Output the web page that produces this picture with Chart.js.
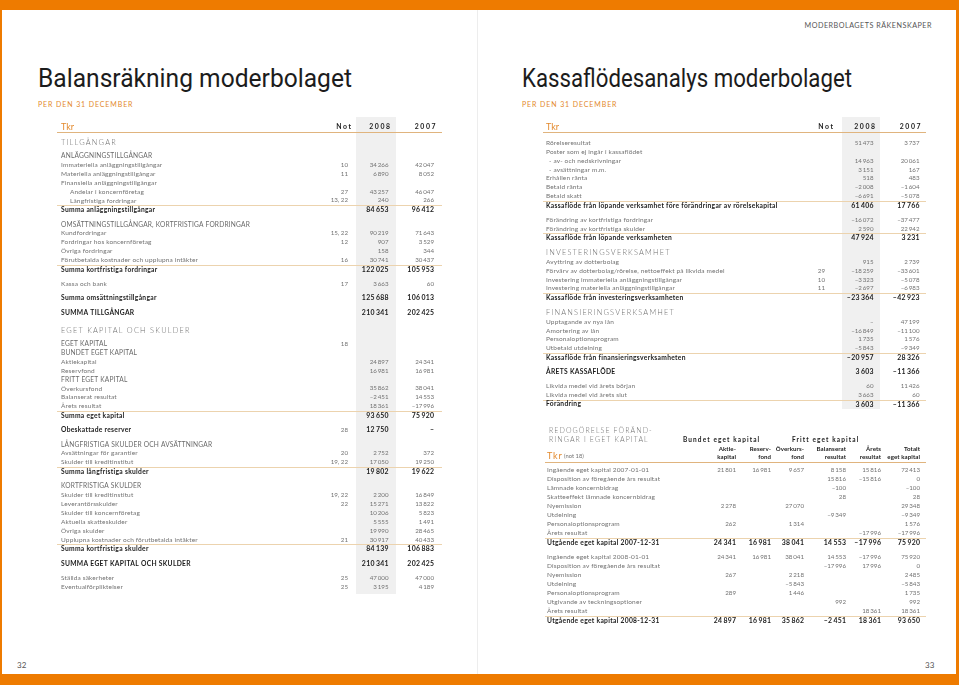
<!DOCTYPE html>
<html lang="sv">
<head>
<meta charset="utf-8">
<title>Balansräkning och kassaflödesanalys moderbolaget</title>
<script src="https://cdn.jsdelivr.net/npm/chart.js@4.4.1/dist/chart.umd.min.js"></script>
<style>
  html,body{margin:0;padding:0;background:#ee7b00;}
  #page{position:relative;width:959px;height:685px;overflow:hidden;background:#ee7b00;font-family:Lato,"Open Sans",sans-serif;}
  #sheet{position:absolute;left:2px;top:10px;width:954px;height:664px;background:#fff;}
  #fold{position:absolute;left:477px;top:10px;width:1px;height:664px;background:#ededed;}
  .t{position:absolute;white-space:nowrap;line-height:1;}
  .title{font-family:Roboto,sans-serif;font-size:25px;color:#1c1c1c;transform-origin:0 50%;}
  .per{font-size:7px;letter-spacing:0.9px;color:#e3892c;}
  .run{font-size:7.2px;letter-spacing:0.5px;color:#555;}
  .pno{font-size:8px;color:#555;}
  canvas{position:absolute;}
</style>
</head>
<body>
<div id="page">
  <div id="sheet"></div>
  <div id="fold"></div>
  <div class="t run" style="right:27px;top:22px;">MODERBOLAGETS RÄKENSKAPER</div>
  <div class="t title" id="t1" style="left:38px;top:66px;">Balansräkning moderbolaget</div>
  <div class="t title" id="t2" style="left:522px;top:66px;">Kassaflödesanalys moderbolaget</div>
  <div class="t per" style="left:38px;top:101px;">PER DEN 31 DECEMBER</div>
  <div class="t per" style="left:522px;top:101px;">PER DEN 31 DECEMBER</div>
  <div class="t pno" style="left:17px;top:661px;">32</div>
  <div class="t pno" style="left:925px;top:661px;">33</div>
  <canvas id="bs"></canvas>
  <canvas id="cf"></canvas>
  <canvas id="eq"></canvas>
</div>
<script>
// ---------------- DATA ----------------
const yearLabels = ['2008', '2007'];
const noteHeader = 'Not';
const unitLabel = 'Tkr';

// Balansräkning
const bsLabels = [
  'TILLGÅNGAR','ANLÄGGNINGSTILLGÅNGAR','Immateriella anläggningstillgångar','Materiella anläggningstillgångar',
  'Finansiella anläggningstillgångar','Andelar i koncernföretag','Långfristiga fordringar','Summa anläggningstillgångar',
  'OMSÄTTNINGSTILLGÅNGAR, KORTFRISTIGA FORDRINGAR','Kundfordringar','Fordringar hos koncernföretag','Övriga fordringar',
  'Förutbetalda kostnader och upplupna intäkter','Summa kortfristiga fordringar','Kassa och bank','Summa omsättningstillgångar','SUMMA TILLGÅNGAR',
  'EGET KAPITAL OCH SKULDER','EGET KAPITAL','BUNDET EGET KAPITAL','Aktiekapital','Reservfond','FRITT EGET KAPITAL','Överkursfond',
  'Balanserat resultat','Årets resultat','Summa eget kapital','Obeskattade reserver',
  'LÅNGFRISTIGA SKULDER OCH AVSÄTTNINGAR','Avsättningar för garantier','Skulder till kreditinstitut','Summa långfristiga skulder',
  'KORTFRISTIGA SKULDER','Skulder till kreditinstitut','Leverantörsskulder','Skulder till koncernföretag','Aktuella skatteskulder',
  'Övriga skulder','Upplupna kostnader och förutbetalda intäkter','Summa kortfristiga skulder','SUMMA EGET KAPITAL OCH SKULDER',
  'Ställda säkerheter','Eventualförpliktelser'
];
const bsNotes = ['','','10','11','','27','13, 22','',
  '','15, 22','12','','16','','17','','',
  '','18','','','','','','','','','28',
  '','20','19, 22','',
  '','19, 22','22','','','','21','','','25','25'];
const bs2008 = [null,null,34266,6890,null,43257,240,84653,
  null,90219,907,158,30741,122025,3663,125688,210341,
  null,null,null,24897,16981,null,35862,-2451,18361,93650,12750,
  null,2752,17050,19802,
  null,2200,15271,10206,5555,19990,30917,84139,210341,47000,3195];
const bs2007 = [null,null,42047,8052,null,46047,266,96412,
  null,71643,3529,344,30437,105953,60,106013,202425,
  null,null,null,24341,16981,null,38041,14553,-17996,75920,0,
  null,372,19250,19622,
  null,16849,13822,5823,1491,28465,40433,106883,202425,47000,4189];
const bsKinds = ['spaced','caps','item','item','item','indent','indent','sum',
  'caps','item','item','item','item','sum','item','total','total',
  'spaced','caps','caps','item','item','caps','item','item','item','sum','total',
  'caps','item','item','sum',
  'caps','item','item','item','item','item','item','sum','total','item','item'];

// Kassaflödesanalys
const cfLabels = [
  'Rörelseresultat','Poster som ej ingår i kassaflödet','- av- och nedskrivningar','- avsättningar m.m.',
  'Erhållen ränta','Betald ränta','Betald skatt',
  'Kassaflöde från löpande verksamhet före förändringar av rörelsekapital',
  'Förändring av kortfristiga fordringar','Förändring av kortfristiga skulder','Kassaflöde från löpande verksamheten',
  'INVESTERINGSVERKSAMHET','Avyttring av dotterbolag','Förvärv av dotterbolag/rörelse, nettoeffekt på likvida medel',
  'Investering immateriella anläggningstillgångar','Investering materiella anläggningstillgångar','Kassaflöde från investeringsverksamheten',
  'FINANSIERINGSVERKSAMHET','Upptagande av nya lån','Amortering av lån','Personaloptionsprogram','Utbetald utdelning',
  'Kassaflöde från finansieringsverksamheten','ÅRETS KASSAFLÖDE',
  'Likvida medel vid årets början','Likvida medel vid årets slut','Förändring'
];
const cfNotes = ['','','','','','','','','','','','','','29','10','11','','','','','','','','','','',''];
const cf2008 = [51473,null,14963,3151,518,-2008,-6691,61406,-16072,2590,47924,
  null,915,-18259,-3323,-2697,-23364,null,0,-16849,1735,-5843,-20957,3603,60,3663,3603];
const cf2007 = [3737,null,20061,167,483,-1604,-5078,17766,-37477,22942,3231,
  null,2739,-33601,-5078,-6983,-42923,null,47199,-11100,1576,-9349,28326,-11366,11426,60,-11366];
const cfKinds = ['item','item','indent','indent','item','item','item','sum','item','item','sum',
  'spaced','item','item','item','item','sum','spaced','item','item','item','item','sum','total','item','item','sum'];

// Redogörelse för förändringar i eget kapital
const eqTitle = ['REDOGÖRELSE FÖRÄND-','RINGAR I EGET KAPITAL'];
const eqGroups = ['Bundet eget kapital','Fritt eget kapital'];
const eqColTop = ['Aktie-','Reserv-','Överkurs-','Balanserat','Årets','Totalt'];
const eqColBottom = ['kapital','fond','fond','resultat','resultat','eget kapital'];
const eqLabels = [
  'Ingående eget kapital 2007-01-01','Disposition av föregående års resultat','Lämnade koncernbidrag',
  'Skatteeffekt lämnade koncernbidrag','Nyemission','Utdelning','Personaloptionsprogram','Årets resultat',
  'Utgående eget kapital 2007-12-31',
  'Ingående eget kapital 2008-01-01','Disposition av föregående års resultat','Nyemission','Utdelning',
  'Personaloptionsprogram','Utgivande av teckningsoptioner','Årets resultat','Utgående eget kapital 2008-12-31'
];
const eqAktiekapital  = [21801,null,null,null,2278,null,262,null,24341, 24341,null,267,null,289,null,null,24897];
const eqReservfond    = [16981,null,null,null,null,null,null,null,16981, 16981,null,null,null,null,null,null,16981];
const eqOverkursfond  = [9657,null,null,null,27070,null,1314,null,38041, 38041,null,2218,-5843,1446,null,null,35862];
const eqBalanserat    = [8158,15816,-100,28,null,-9349,null,null,14553, 14553,-17996,null,null,null,992,null,-2451];
const eqAretsResultat = [15816,-15816,null,null,null,null,null,-17996,-17996, -17996,17996,null,null,null,null,18361,18361];
const eqTotalt        = [72413,0,-100,28,29348,-9349,1576,-17996,75920, 75920,0,2485,-5843,1735,992,18361,93650];
const eqKinds = ['item','item','item','item','item','item','item','item','sum',
  'item','item','item','item','item','item','item','sum'];

// ---------------- STYLE / LAYOUT ----------------
const FONT = 'Lato, "Open Sans", sans-serif';
const COL = { item:'#727272', caps:'#6a6a6a', spaced:'#6e6e6e', bold:'#1b1b1b', orange:'#e3892c',
  line:'#ecd3ae', head:'#e0b47e', band:'#f0f0f0', head2:'#222' };
const ST = {
  spaced:{w:300,s:7.4,ls:1.2,c:COL.spaced},
  caps:{w:400,s:6.6,ls:0.2,c:COL.caps},
  item:{w:400,s:6.5,ls:0.15,c:COL.item},
  indent:{w:400,s:6.5,ls:0.15,c:COL.item},
  sum:{w:700,s:6.7,ls:0.3,c:COL.bold},
  total:{w:700,s:6.7,ls:0.3,c:COL.bold}
};
const NUMST = { item:{w:400,s:6.2,ls:0,c:COL.item}, sum:{w:700,s:6.9,ls:0.3,c:COL.bold} };

function setStyle(ctx, st){
  ctx.font = st.w + ' ' + st.s + 'px ' + FONT;
  ctx.letterSpacing = (st.ls||0) + 'px';
  ctx.fillStyle = st.c;
}
function txt(ctx, s, x, y, st, align){
  setStyle(ctx, st);
  ctx.textBaseline = 'middle';
  ctx.textAlign = align || 'left';
  ctx.fillText(s, align === 'right' ? x + (st.ls||0) : x, y);
}
function fmt(v, zeroDash){
  if (v === null || v === undefined) return null;
  if (v === 0) return zeroDash ? '–' : '0';
  const s = Math.abs(v).toString().replace(/\B(?=(\d{3})+(?!\d))/g, '\u2009');
  return (v < 0 ? '–' : '') + s;
}
function rowPositions(kinds, start, g){
  const ys = []; let y = start;
  kinds.forEach((k,i) => {
    if (i > 0){
      const p = kinds[i-1];
      let d = g.step;
      if (k === 'spaced') d = g.spaced;
      else if (p === 'spaced') d = g.afterSpaced;
      else if (k === 'sum') d = g.sum;
      else if (k === 'total' || p === 'sum' || p === 'total') d = g.brk;
      y += d;
    }
    ys.push(y);
  });
  return ys;
}

function buildTable(id, box, cfg){
  const cv = document.getElementById(id);
  cv.width = box.w; cv.height = box.h;
  cv.style.left = box.x + 'px'; cv.style.top = box.y + 'px';
  cv.style.width = box.w + 'px'; cv.style.height = box.h + 'px';
  const ys = rowPositions(cfg.kinds, cfg.start, cfg.gaps);
  const datasets = [];
  datasets.push({label:'Rad', role:'label',
    data: cfg.labels.map((s,i) => ({x: cfg.labelX + (cfg.kinds[i]==='indent' ? cfg.indent : 0), y: ys[i], v: s}))});
  if (cfg.notes) datasets.push({label: noteHeader, role:'note',
    data: cfg.notes.map((s,i) => ({x: cfg.noteX, y: ys[i], v: s || null}))});
  cfg.cols.forEach(c => datasets.push({label: c.name, role:'value',
    data: c.values.map((v,i) => ({x: c.x, y: ys[i], v: v}))}));
  datasets.forEach(d => { d.pointRadius = 0; d.pointHoverRadius = 0; d.showLine = false; });

  const plugin = {
    id: 'tableText_' + id,
    beforeDatasetsDraw(chart){
      const ctx = chart.ctx, X = chart.scales.x, Y = chart.scales.y;
      ctx.save();
      if (cfg.band){
        const b = cfg.band;
        ctx.fillStyle = COL.band;
        const x0 = X.getPixelForValue(b.x0), x1 = X.getPixelForValue(b.x1);
        const y0 = Y.getPixelForValue(b.y0), y1 = Y.getPixelForValue(b.y1);
        ctx.fillRect(x0, y0, x1 - x0, y1 - y0);
      }
      const hline = (yv, color) => {
        const x0 = X.getPixelForValue(cfg.lineX0), x1 = X.getPixelForValue(cfg.lineX1);
        ctx.fillStyle = color;
        ctx.fillRect(x0, Math.round(Y.getPixelForValue(yv)), x1 - x0, 1);
      };
      hline(cfg.headLineY, COL.head);
      cfg.kinds.forEach((k,i) => { if (k === 'sum') hline(ys[i] - cfg.lineOff, COL.line); });
      ctx.restore();
    },
    afterDatasetsDraw(chart){
      const ctx = chart.ctx, X = chart.scales.x, Y = chart.scales.y;
      ctx.save();
      cfg.drawHeader(ctx, v => X.getPixelForValue(v), v => Y.getPixelForValue(v));
      chart.data.datasets.forEach((ds, di) => {
        const meta = chart.getDatasetMeta(di);
        meta.data.forEach((el, i) => {
          const raw = ds.data[i].v; const k = cfg.kinds[i];
          const bold = (k === 'sum' || k === 'total');
          if (ds.role === 'label'){
            txt(ctx, raw, el.x, el.y, ST[k], 'left');
          } else if (ds.role === 'note'){
            if (raw) txt(ctx, raw, el.x, el.y, NUMST.item, 'right');
          } else {
            const s = fmt(raw, cfg.zeroDash);
            if (s !== null) txt(ctx, s, el.x, el.y, bold ? NUMST.sum : NUMST.item, 'right');
          }
        });
      });
      ctx.restore();
    }
  };

  return new Chart(cv, {
    type: 'scatter',
    data: { datasets },
    options: {
      responsive: false, maintainAspectRatio: false, animation: false, events: [],
      layout: { padding: 0 },
      plugins: { legend: {display:false}, tooltip: {enabled:false} },
      scales: {
        x: { type:'linear', min: box.x, max: box.x + box.w, display:false },
        y: { type:'linear', min: box.y, max: box.y + box.h, reverse:true, display:false }
      }
    },
    plugins: [plugin]
  });
}

const HEADST = {w:700,s:6.9,ls:1.6,c:COL.head2};
const TKRST = {w:400,s:9,ls:0,c:COL.orange};

function yearHeader(labelX, noteHX, xs, y){
  return (ctx, PX, PY) => {
    txt(ctx, unitLabel, PX(labelX), PY(y), TKRST, 'left');
    txt(ctx, noteHeader, PX(noteHX), PY(y), HEADST, 'right');
    yearLabels.forEach((s,i) => txt(ctx, s, PX(xs[i]), PY(y), HEADST, 'right'));
  };
}

function build(){
  [['t1',314],['t2',330]].forEach(([id,w]) => {
    const el = document.getElementById(id);
    el.style.transform = 'scaleX(' + (w / el.getBoundingClientRect().width) + ')';
  });

  buildTable('bs', {x:50, y:112, w:400, h:490}, {
    labels: bsLabels, notes: bsNotes, kinds: bsKinds,
    cols: [{name: yearLabels[0], x: 388.5, values: bs2008}, {name: yearLabels[1], x: 434, values: bs2007}],
    labelX: 61, indent: 9, noteX: 348,
    start: 143, gaps: {step:8.9, sum:9.6, brk:14.3, spaced:18.5, afterSpaced:13},
    band: {x0:356, x1:396, y0:117, y1:594},
    lineX0: 57, lineX1: 442, headLineY: 131.5, lineOff: 5,
    zeroDash: true,
    drawHeader: yearHeader(61, 351, [390, 435.5], 127)
  });

  buildTable('cf', {x:535, y:112, w:400, h:305}, {
    labels: cfLabels, notes: cfNotes, kinds: cfKinds,
    cols: [{name: yearLabels[0], x: 873.5, values: cf2008}, {name: yearLabels[1], x: 919.5, values: cf2007}],
    labelX: 546, indent: 3, noteX: 825,
    start: 143, gaps: {step:8.85, sum:9.3, brk:14.3, spaced:14.5, afterSpaced:9.5},
    band: {x0:842, x1:880, y0:117, y1:409},
    lineX0: 543, lineX1: 926, headLineY: 131.5, lineOff: 4.8,
    zeroDash: true,
    drawHeader: yearHeader(546, 833, [875, 920.5], 127)
  });

  const eqX = [736, 771, 804, 846, 881, 920];
  buildTable('eq', {x:535, y:420, w:400, h:210}, {
    labels: eqLabels, kinds: eqKinds,
    cols: [
      {name: eqColTop[0] + eqColBottom[0], x: eqX[0], values: eqAktiekapital},
      {name: eqColTop[1] + eqColBottom[1], x: eqX[1], values: eqReservfond},
      {name: eqColTop[2] + eqColBottom[2], x: eqX[2], values: eqOverkursfond},
      {name: eqColTop[3] + ' ' + eqColBottom[3], x: eqX[3], values: eqBalanserat},
      {name: eqColTop[4] + ' ' + eqColBottom[4], x: eqX[4], values: eqAretsResultat},
      {name: eqColTop[5] + ' ' + eqColBottom[5], x: eqX[5], values: eqTotalt}
    ],
    labelX: 547, indent: 0,
    start: 470, gaps: {step:9, sum:9.5, brk:14.5, spaced:14.5, afterSpaced:9.5},
    band: null,
    lineX0: 545, lineX1: 926, headLineY: 462, lineOff: 4.8,
    zeroDash: false,
    drawHeader: (ctx, PX, PY) => {
      const sp = {w:300,s:7,ls:1.1,c:COL.spaced};
      txt(ctx, eqTitle[0], PX(549), PY(431), sp, 'left');
      txt(ctx, eqTitle[1], PX(549), PY(440), sp, 'left');
      const gst = {w:700,s:6.5,ls:1.1,c:COL.head2};
      txt(ctx, eqGroups[0], PX(683), PY(440), gst, 'left');
      txt(ctx, eqGroups[1], PX(792), PY(440), gst, 'left');
      const cst = {w:700,s:6.1,ls:0.1,c:COL.head2};
      eqX.forEach((x,i) => {
        txt(ctx, eqColTop[i], PX(x), PY(449), cst, 'right');
        txt(ctx, eqColBottom[i], PX(x), PY(457), cst, 'right');
      });
      txt(ctx, unitLabel, PX(547), PY(456), {w:400,s:9,ls:0.8,c:COL.orange}, 'left');
      txt(ctx, '(not 18)', PX(564), PY(456.5), {w:400,s:5.8,ls:0,c:COL.item}, 'left');
    }
  });
}

Promise.all([
  document.fonts.load('300 10px Lato'), document.fonts.load('400 10px Lato'),
  document.fonts.load('700 10px Lato'), document.fonts.load('400 10px Roboto')
]).catch(() => {}).then(build);
</script>
</body>
</html>
